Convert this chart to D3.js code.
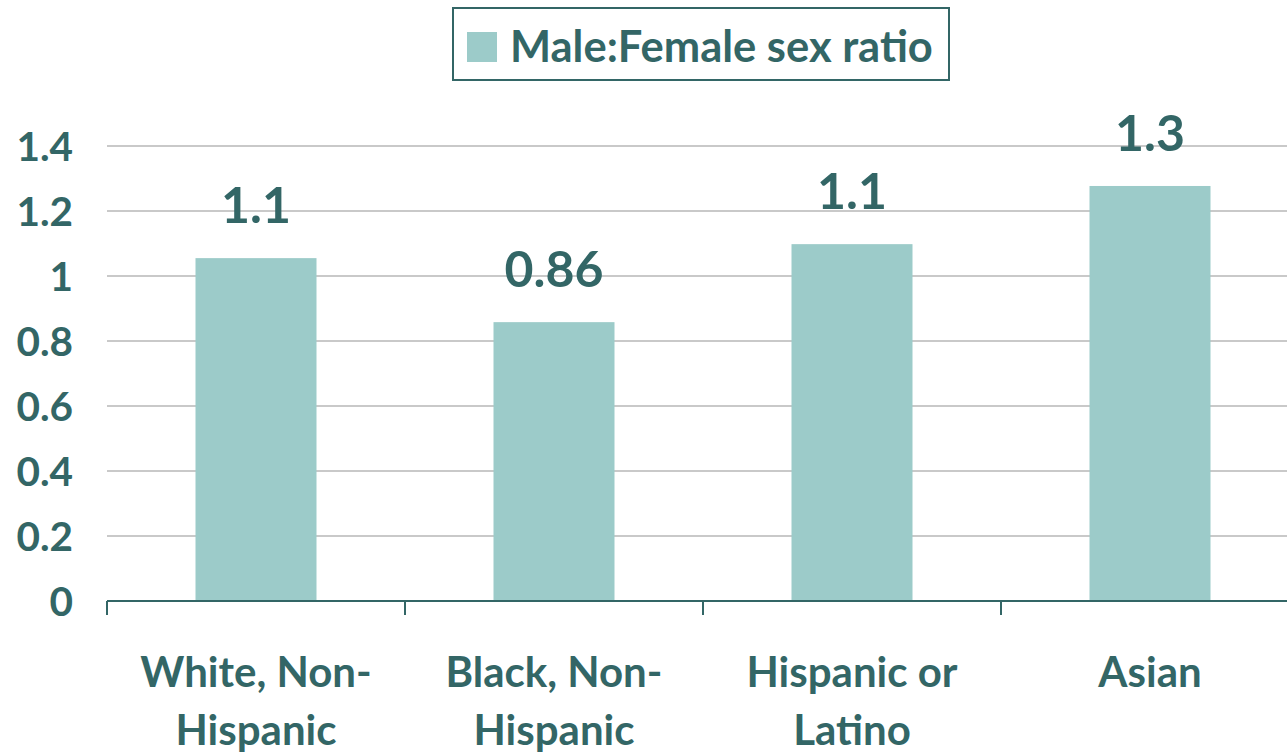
<!DOCTYPE html>
<html><head><meta charset="utf-8">
<script src="https://cdn.jsdelivr.net/npm/d3@7"></script>
<style>
html,body{margin:0;padding:0;background:#fff;}
svg text{font-family:Lato,"Open Sans",sans-serif;font-weight:700;fill:#336666;}
</style></head>
<body><svg id="c" width="1287" height="754"></svg>
<script>
const categories = [["White, Non-","Hispanic"],["Black, Non-","Hispanic"],["Hispanic or","Latino"],["Asian"]];
const values = [1.055, 0.858, 1.098, 1.277];
const valueLabels = ["1.1","0.86","1.1","1.3"];
const yTicks = [0,0.2,0.4,0.6,0.8,1,1.2,1.4];
const yTickLabels = ["0","0.2","0.4","0.6","0.8","1","1.2","1.4"];
const seriesName = "Male:Female sex ratio";

const svg = d3.select("#c");
const teal = "#336666", barC = "#9CCBC9";
const left = 107, right = 1299, y0 = 601, yTop = 146;
const xb = d3.scaleBand().domain(d3.range(categories.length)).range([left,right]);
const y = d3.scaleLinear().domain([0,1.4]).range([y0,yTop]);

// gridlines
svg.append("g").selectAll("line").data(yTicks.slice(1)).join("line")
  .attr("x1",left).attr("x2",1287).attr("y1",d=>y(d)).attr("y2",d=>y(d))
  .attr("stroke","#c9c9c9").attr("stroke-width",2);

// y labels
svg.append("g").selectAll("text").data(yTicks).join("text")
  .attr("x",73).attr("y",d=>y(d)).attr("dy","0.36em").attr("text-anchor","end")
  .attr("font-size",40.5).text((d,i)=>yTickLabels[i]);

// bars
svg.append("g").selectAll("rect").data(values).join("rect")
  .attr("x",(d,i)=>xb(i)+xb.bandwidth()/2-60.5).attr("width",121)
  .attr("y",d=>y(d)).attr("height",d=>y0-y(d)).attr("fill",barC);

// value labels
svg.append("g").selectAll("text").data(values).join("text")
  .attr("x",(d,i)=>xb(i)+xb.bandwidth()/2).attr("y",d=>y(d)-35)
  .attr("text-anchor","middle").attr("font-size",50).text((d,i)=>valueLabels[i]);

// x axis
svg.append("line").attr("x1",left).attr("x2",1287).attr("y1",y0).attr("y2",y0).attr("stroke",teal).attr("stroke-width",2);
svg.append("g").selectAll("line").data(d3.range(categories.length+1)).join("line")
  .attr("x1",i=>left+i*xb.step()).attr("x2",i=>left+i*xb.step()).attr("y1",y0).attr("y2",y0+14)
  .attr("stroke",teal).attr("stroke-width",2);

// category labels
const cl = svg.append("g").selectAll("text").data(categories).join("text")
  .attr("text-anchor","middle").attr("font-size",42);
cl.each(function(lines,i){
  const t = d3.select(this);
  lines.forEach((ln,j)=>{
    t.append("tspan").attr("x",xb(i)+xb.bandwidth()/2).attr("y",687+j*58).text(ln);
  });
});

// legend
const lg = svg.append("g");
lg.append("rect").attr("x",453).attr("y",8).attr("width",496).attr("height",72)
  .attr("fill","#fff").attr("stroke",teal).attr("stroke-width",2);
lg.append("rect").attr("x",467).attr("y",32).attr("width",30).attr("height",30).attr("fill",barC);
lg.append("text").attr("x",510).attr("y",62).attr("font-size",43.5).text(seriesName);
</script></body></html>
